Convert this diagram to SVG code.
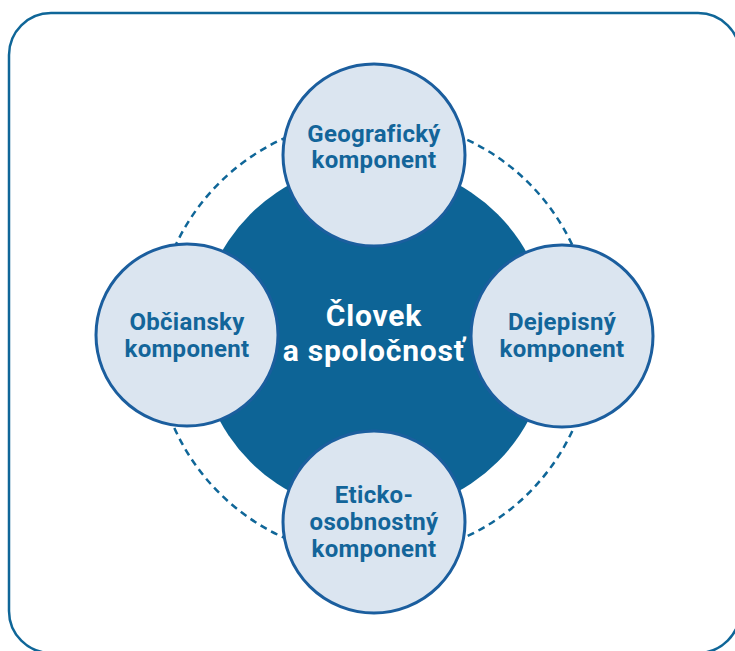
<svg xmlns="http://www.w3.org/2000/svg" width="735" height="651" viewBox="0 0 735 651">
<style>
.frame{fill:#ffffff;stroke:#0f6698;stroke-width:2.5}
.ring{fill:none;stroke:#0f6698;stroke-width:2.5;stroke-dasharray:7 5}
.core{fill:#0d6496}
.node{fill:#dbe5f0;stroke:#1b5e9e;stroke-width:3}
.lbl{font-family:Roboto,"Liberation Sans",sans-serif;font-weight:700;font-size:24px;letter-spacing:0.3px;fill:#13659a;text-anchor:middle}
.ctr{font-family:Roboto,"Liberation Sans",sans-serif;font-weight:700;font-size:30px;letter-spacing:0.8px;fill:#ffffff;text-anchor:middle}
</style>
<rect class="frame" x="9" y="13" width="731" height="640" rx="42" ry="42"/>
<g id="connectors">
<circle class="ring" cx="374" cy="338" r="219"/>
</g>
<g id="center">
<circle class="core" cx="374" cy="338" r="175"/>
<text class="ctr" x="374" y="326">Človek</text>
<text class="ctr" x="374" y="361">a spoločnosť</text>
</g>
<g id="node-geo">
<circle class="node" cx="374" cy="155" r="91"/>
<text class="lbl" x="374" y="142">Geografický</text>
<text class="lbl" x="374" y="168">komponent</text>
</g>
<g id="node-dej">
<circle class="node" cx="562" cy="336" r="91"/>
<text class="lbl" x="562" y="330">Dejepisný</text>
<text class="lbl" x="562" y="357">komponent</text>
</g>
<g id="node-obc">
<circle class="node" cx="187" cy="335" r="91"/>
<text class="lbl" x="187" y="330">Občiansky</text>
<text class="lbl" x="187" y="357">komponent</text>
</g>
<g id="node-eti">
<circle class="node" cx="374" cy="522" r="91"/>
<text class="lbl" x="374" y="503">Eticko-</text>
<text class="lbl" x="374" y="530">osobnostný</text>
<text class="lbl" x="374" y="557">komponent</text>
</g>
</svg>
